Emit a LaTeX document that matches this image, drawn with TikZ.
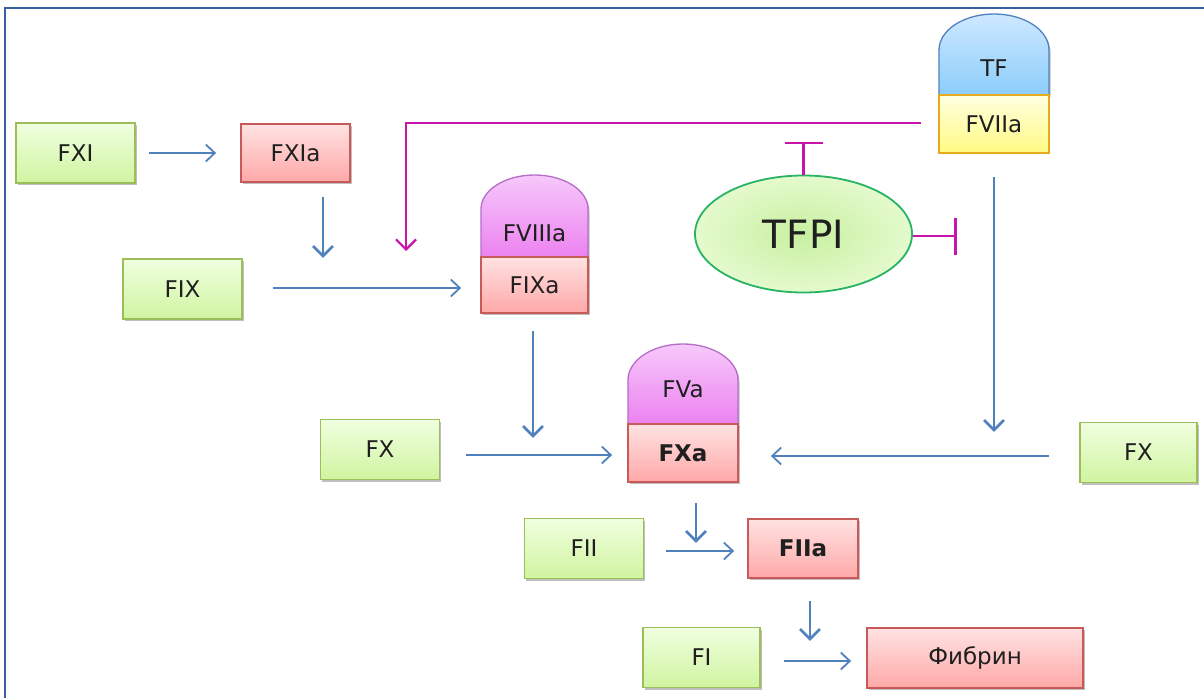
\documentclass[tikz,border=0pt]{standalone}
\usepackage{fontspec}
\setmainfont{DejaVu Sans}
\usetikzlibrary{arrows.meta,shapes.geometric,calc,shadows}
\definecolor{arrblue}{RGB}{79,129,189}
\definecolor{framec}{RGB}{58,95,160}
\definecolor{magc}{RGB}{200,20,170}
\definecolor{gdraw}{RGB}{155,190,90}
\definecolor{gtop}{RGB}{240,255,224}
\definecolor{gbot}{RGB}{208,244,160}
\definecolor{rdraw}{RGB}{200,90,90}
\definecolor{rtop}{RGB}{255,226,226}
\definecolor{rbot}{RGB}{255,168,168}
\definecolor{mdraw}{RGB}{180,110,200}
\definecolor{mtop}{RGB}{246,200,250}
\definecolor{mbot}{RGB}{236,130,240}
\definecolor{bdraw}{RGB}{80,130,190}
\definecolor{btop}{RGB}{205,232,255}
\definecolor{bbot}{RGB}{140,205,250}
\definecolor{ydraw}{RGB}{230,170,30}
\definecolor{ytop}{RGB}{255,255,225}
\definecolor{ybot}{RGB}{255,250,130}
\definecolor{tdraw}{RGB}{40,180,100}
\definecolor{tin}{RGB}{200,240,160}
\definecolor{tout}{RGB}{228,250,205}
\tikzset{
  lbl/.style={font=\fontsize{23}{27}\selectfont, text=black!88},
  shad/.style={drop shadow={shadow xshift=1.5pt,shadow yshift=-2pt,opacity=0.25,fill=black}},
  gbox/.style={lbl, rectangle, draw=gdraw, line width=1.8pt, top color=gtop, bottom color=gbot, minimum width=119pt, minimum height=60pt, inner sep=0pt, shad},
  rbox/.style={lbl, rectangle, draw=rdraw, line width=1.8pt, top color=rtop, bottom color=rbot, minimum height=58pt, inner sep=0pt, shad},
  ybox/.style={lbl, rectangle, draw=ydraw, line width=1.8pt, top color=ytop, bottom color=ybot, minimum width=110pt, minimum height=58pt, inner sep=0pt},
  mdome/.style={draw=mdraw, line width=1.3pt, top color=mtop, bottom color=mbot, shad},
  bdome/.style={draw=bdraw, line width=1.3pt, top color=btop, bottom color=bbot, shad},
  arr/.style={draw=arrblue, line width=1.8pt, -{Straight Barb[length=9pt,width=17pt,line width=1.8pt]}},
  darr/.style={draw=arrblue, line width=2.6pt, -{Straight Barb[length=10pt,width=20pt,line width=2.6pt]}},
  mag/.style={draw=magc, line width=2.2pt},
}
\begin{document}
\begin{tikzpicture}[x=1pt,y=-1pt]
\useasboundingbox (0,0) rectangle (1204,698);
\fill[white] (0,0) rectangle (1204,698);
\draw[framec, line width=2.2pt] (5,698) -- (5,8) -- (1204,8);

% left column
\node[gbox] (FXI) at (75.5,153) {FXI};
\node[rbox, minimum width=109pt] (FXIa) at (295.5,153) {FXIa};
\node[gbox] (FIX) at (182.5,289) {FIX};

% FVIIIa / FIXa
\path[mdome] (481,257) -- (481,209) arc[start angle=180,end angle=360,x radius=53.5,y radius=34] -- (588,257) -- cycle;
\node[lbl] (FVIIIa) at (534.5,233) {FVIIIa};
\node[rbox, minimum width=107pt, minimum height=56pt] (FIXa) at (534.5,285) {FIXa};

% TF / FVIIa
\path[bdome] (939,95) -- (939,50) arc[start angle=180,end angle=360,x radius=55,y radius=36] -- (1049,95) -- cycle;
\node[lbl] (TF) at (994,68) {TF};
\node[ybox] (FVIIa) at (994,124) {FVIIa};

% TFPI
\node[ellipse, draw=tdraw, line width=1.8pt, inner color=tin, outer color=tout, minimum width=217pt, minimum height=117pt, inner sep=0pt, font=\fontsize{39}{45}\selectfont, text=black!88] (TFPI) at (803.5,234) {TFPI};

% FVa / FXa
\path[mdome] (628,424) -- (628,380) arc[start angle=180,end angle=360,x radius=55,y radius=36] -- (738,424) -- cycle;
\node[lbl] (FVa) at (683,389) {FVa};
\node[rbox, minimum width=110pt, font=\bfseries\fontsize{23}{27}\selectfont] (FXa) at (683,453) {FXa};

\node[gbox] (FXl) at (380,449.5) {FX};
\node[gbox, minimum width=117pt] (FXr) at (1138.5,452.5) {FX};

\node[gbox] (FII) at (584,548.5) {FII};
\node[rbox, minimum width=110pt, minimum height=59pt, font=\bfseries\fontsize{23}{27}\selectfont] (FIIa) at (803,548.5) {FIIa};
\node[gbox, minimum width=117pt] (FI) at (701.5,657.5) {FI};
\node[rbox, minimum width=216pt, minimum height=60pt] (Fib) at (975,658) {Фибрин};

% connectors
\draw[arr, shorten <=13pt, shorten >=24pt] (FXI) -- (FXIa);
\coordinate (a1) at ($(FXIa.south)+(27.5,14)$);
\coordinate (a2) at ($(FXIa.south)+(27.5,75)$);
\draw[darr] (a1) -- (a2);
\draw[arr, shorten <=30pt, shorten >=19pt] (FIX.east |- 0,288) -- (FIXa.west |- 0,288);

\coordinate (m0) at ($(FVIIa.west)+(-17,-1)$);
\coordinate (m1) at (406,251);
\draw[mag, -{Straight Barb[length=10pt,width=20pt,line width=2.2pt]}] (m0) -| (m1);

\coordinate (t1) at ($(TFPI.north)+(0,-33)$);
\draw[mag, -{Bar[width=38pt,line width=2.6pt]}] (TFPI.north) -- (t1);
\coordinate (t2) at (957,236);
\draw[mag, -{Bar[width=37pt,line width=2.6pt]}] (TFPI.east |- t2) -- (t2);

\coordinate (v1) at ($(FVIIa.south)+(0,23)$);
\coordinate (v2) at ($(FVIIa.south)+(0,278)$);
\draw[darr] (v1) -- (v2);

\coordinate (b1) at ($(FIXa.south)+(-1.5,17)$);
\coordinate (b2) at ($(FIXa.south)+(-1.5,124)$);
\draw[darr] (b1) -- (b2);

\draw[arr, shorten <=26pt, shorten >=15pt] (FXl.east |- 0,455) -- (FXa.west |- 0,455);
\draw[arr, shorten <=30pt, shorten >=32pt] (FXr.west |- 0,456) -- (FXa.east |- 0,456);

\coordinate (c1) at ($(FXa.south)+(13,20)$);
\coordinate (c2) at ($(FXa.south)+(13,60)$);
\draw[darr] (c1) -- (c2);
\draw[arr, shorten <=22pt, shorten >=13pt] (FII.east |- 0,551) -- (FIIa.west |- 0,551);

\coordinate (d1) at ($(FIIa.south)+(7,22)$);
\coordinate (d2) at ($(FIIa.south)+(7,62)$);
\draw[darr] (d1) -- (d2);
\draw[arr, shorten <=23pt, shorten >=15pt] (FI.east |- 0,661) -- (Fib.west |- 0,661);
\end{tikzpicture}
\end{document}
